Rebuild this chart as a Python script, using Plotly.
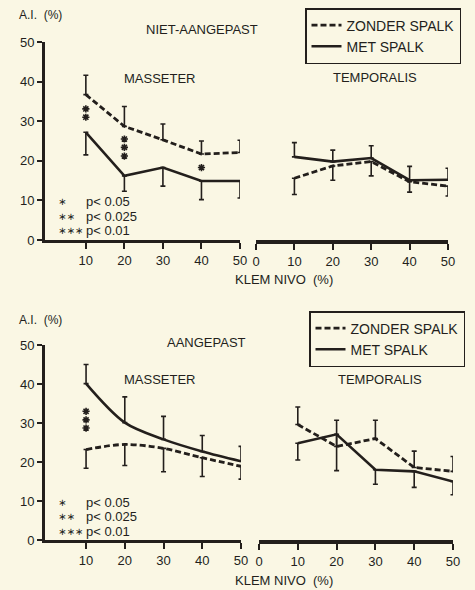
import plotly.graph_objects as go

W, H = 475, 590
BG = "#faf7e4"
INK = "#231f1c"
FONT = "Liberation Sans, Arial, sans-serif"

klem = [10, 20, 30, 40, 50]

# --- NIET-AANGEPAST (top) ---
top_mass_zonder = [36.7, 28.7, 25.3, 21.7, 22.1]
top_mass_zonder_up = [4.9, 5.0, 4.0, 3.3, 3.1]
top_mass_met = [27.2, 16.2, 18.3, 14.9, 14.9]
top_mass_met_down = [5.7, 3.9, 4.7, 4.7, 4.3]

top_temp_zonder = [15.6, 18.7, 19.8, 14.7, 13.6]
top_temp_zonder_down = [4.1, 3.6, 3.6, 2.6, 2.5]
top_temp_met = [21.0, 19.8, 20.7, 15.1, 15.2]
top_temp_met_up = [3.6, 2.9, 3.1, 3.5, 2.9]

top_sig_x = [10, 10, 20, 20, 20, 40]
top_sig_y = [33.1, 31.0, 25.5, 23.4, 21.2, 18.3]

# --- AANGEPAST (bottom) ---
bot_mass_zonder = [23.2, 24.5, 23.5, 21.1, 18.9]
bot_mass_zonder_down = [4.8, 5.4, 6.0, 4.8, 3.3]
bot_mass_met = [40.1, 30.1, 25.8, 22.7, 20.2]
bot_mass_met_up = [4.9, 6.6, 5.9, 4.1, 3.8]

bot_temp_zonder = [29.6, 24.0, 26.0, 18.6, 17.6]
bot_temp_zonder_up = [4.5, 6.7, 4.7, 4.2, 3.8]
bot_temp_met = [24.8, 27.1, 18.0, 17.6, 15.0]
bot_temp_met_down = [4.3, 9.3, 3.7, 4.1, 3.4]

bot_sig_x = [10, 10, 10]
bot_sig_y = [33.0, 30.8, 28.7]

y_ticks = [0, 10, 20, 30, 40, 50]
x_ticks_left = [10, 20, 30, 40, 50]
x_ticks_right = [0, 10, 20, 30, 40, 50]

series_names = ["ZONDER SPALK", "MET SPALK"]
sig_labels = ["∗", "∗∗", "∗∗∗"]
sig_texts = ["p< 0.05", "p< 0.025", "p< 0.01"]

fig = go.Figure()


def err(up=None, down=None):
    zeros = [0] * 5
    return dict(type="data", symmetric=False,
                array=up if up is not None else zeros,
                arrayminus=down if down is not None else zeros,
                color=INK, thickness=1.6, width=2.5)


def add(y, xa, ya, dashed, e, legend, show, shape="linear"):
    fig.add_trace(go.Scatter(
        x=klem, y=y, xaxis=xa, yaxis=ya, mode="lines",
        line=dict(color=INK, width=2.8 if dashed else 2.6,
                  dash="6px,3px" if dashed else "solid",
                  shape=shape, smoothing=0.9),
        error_y=e,
        name=series_names[0] if dashed else series_names[1],
        legend=legend, showlegend=show, hoverinfo="skip"))


# top
add(top_mass_zonder, "x", "y", True, err(up=top_mass_zonder_up), "legend", True)
add(top_mass_met, "x", "y", False, err(down=top_mass_met_down), "legend", True)
add(top_temp_zonder, "x2", "y", True, err(down=top_temp_zonder_down), "legend", False)
add(top_temp_met, "x2", "y", False, err(up=top_temp_met_up), "legend", False)
# bottom
add(bot_mass_zonder, "x3", "y2", True, err(down=bot_mass_zonder_down), "legend2", True, "spline")
add(bot_mass_met, "x3", "y2", False, err(up=bot_mass_met_up), "legend2", True, "spline")
add(bot_temp_zonder, "x4", "y2", True, err(up=bot_temp_zonder_up), "legend2", False)
add(bot_temp_met, "x4", "y2", False, err(down=bot_temp_met_down), "legend2", False)

# significance stars
for sx, sy, xa, ya in [(top_sig_x, top_sig_y, "x", "y"), (bot_sig_x, bot_sig_y, "x3", "y2")]:
    fig.add_trace(go.Scatter(
        x=sx, y=sy, xaxis=xa, yaxis=ya, mode="markers",
        marker=dict(symbol="asterisk-open", size=6, color=INK,
                    line=dict(color=INK, width=1.6)),
        showlegend=False, hoverinfo="skip"))


def px(x):
    return x / W


def py(y):
    return 1 - y / H


axis_common = dict(showgrid=False, zeroline=False, showline=True, linecolor=INK,
                   ticks="outside", tickcolor=INK, tickwidth=1.6, automargin=False,
                   tickfont=dict(family=FONT, size=13, color=INK))

fig.update_layout(
    template="none",
    width=W, height=H, margin=dict(l=0, r=0, t=0, b=0, autoexpand=False),
    paper_bgcolor=BG, plot_bgcolor=BG,
    font=dict(family=FONT, color=INK),
    xaxis=dict(domain=[px(45), px(240)], range=[-0.6, 50], anchor="y",
               tickvals=x_ticks_left, ticklen=6, linewidth=3, **axis_common),
    xaxis2=dict(domain=[px(256), px(448)], range=[0, 50], anchor="y",
                tickvals=x_ticks_right, ticklen=6, linewidth=4, **axis_common),
    yaxis=dict(domain=[py(240), py(42)], range=[0, 50], anchor="x",
               tickvals=y_ticks, ticklen=5, linewidth=3, **axis_common),
    xaxis3=dict(domain=[px(45), px(241)], range=[-0.6, 50], anchor="y2",
                tickvals=x_ticks_left, ticklen=6, linewidth=3, **axis_common),
    xaxis4=dict(domain=[px(259), px(453)], range=[0, 50], anchor="y2",
                tickvals=x_ticks_right, ticklen=6, linewidth=4, **axis_common),
    yaxis2=dict(domain=[py(540), py(345)], range=[0, 50], anchor="x3",
                tickvals=y_ticks, ticklen=5, linewidth=3, **axis_common),
    legend=dict(x=px(305), y=py(8), xanchor="left", yanchor="top",
                bgcolor="rgba(0,0,0,0)", bordercolor=INK, borderwidth=1.5,
                font=dict(family=FONT, size=14, color=INK), traceorder="normal",
                tracegroupgap=0, itemwidth=30),
    legend2=dict(x=px(309), y=py(311), xanchor="left", yanchor="top",
                 bgcolor="rgba(0,0,0,0)", bordercolor=INK, borderwidth=1.5,
                 font=dict(family=FONT, size=14, color=INK), traceorder="normal",
                 tracegroupgap=0, itemwidth=30),
)


def ann(text, x, y, size=13, xanchor="center"):
    fig.add_annotation(text=text, x=px(x), y=py(y), xref="paper", yref="paper",
                       xanchor=xanchor, yanchor="middle", showarrow=False,
                       font=dict(family=FONT, size=size, color=INK))


ann("A.I.  (%)", 17, 15, 12, "left")
ann("NIET-AANGEPAST", 202, 29, 13)
ann("MASSETER", 160, 78, 13)
ann("TEMPORALIS", 375, 77, 13)
ann("KLEM NIVO  (%)", 284, 279, 13)

ann("A.I.  (%)", 17, 320, 12, "left")
ann("AANGEPAST", 206, 342, 13)
ann("MASSETER", 160, 379, 13)
ann("TEMPORALIS", 380, 380, 13)
ann("KLEM NIVO  (%)", 284, 580, 13)

for base in (202, 502):
    for i, (s, t) in enumerate(zip(sig_labels, sig_texts)):
        yy = base + i * 14.5
        fig.add_annotation(text=s, x=px(56), y=py(yy), xref="paper", yref="paper",
                           xanchor="left", yanchor="middle", showarrow=False,
                           font=dict(family="DejaVu Sans", size=10, color=INK))
        ann(t, 84, yy, 13, "left")

fig.write_html(
    "out.html",
    config={"displayModeBar": False, "responsive": False},
    post_script="document.body.style.margin='0';document.body.style.overflow='hidden';document.body.style.background='" + BG + "';",
)
